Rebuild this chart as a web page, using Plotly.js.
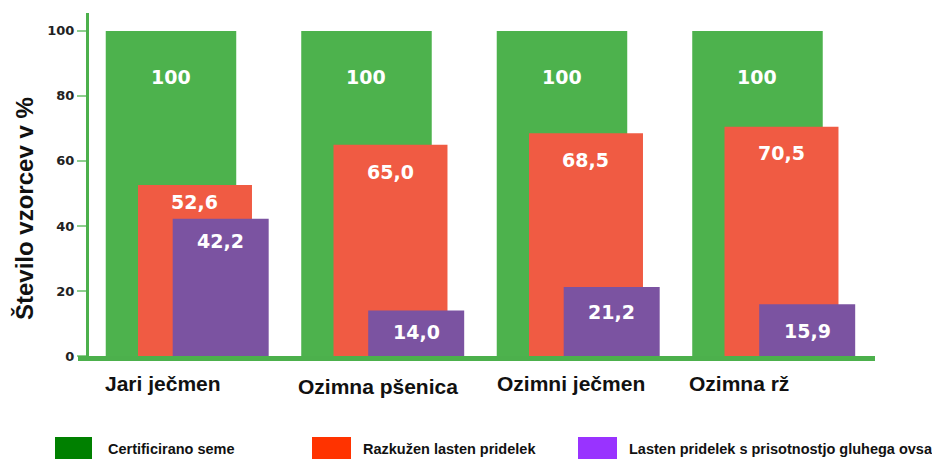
<!DOCTYPE html>
<html>
<head>
<meta charset="utf-8">
<script src="https://cdn.plot.ly/plotly-3.0.1.min.js"></script>
<style>
  html, body { margin: 0; padding: 0; background: #ffffff; }
  #chart { width: 932px; height: 460px; }
</style>
</head>
<body>
<div id="chart"></div>
<script>
// ---------- DATA ----------
const categories = ['Jari ječmen', 'Ozimna pšenica', 'Ozimni ječmen', 'Ozimna rž'];
const seriesNames = ['Certificirano seme', 'Razkužen lasten pridelek', 'Lasten pridelek s prisotnostjo gluhega ovsa'];
const certifiedSeed = [100, 100, 100, 100];
const disinfectedOwnYield = [52.6, 65.0, 68.5, 70.5];
const ownYieldWithWildOat = [42.2, 14.0, 21.2, 15.9];
const yTickValues = [0, 20, 40, 60, 80, 100];
const yAxisTitle = 'Število vzorcev v %';

// ---------- STYLE ----------
const W = 932, H = 460;
const M = { l: 89, r: 57, t: 13, b: 104 };
const PW = W - M.l - M.r, PH = H - M.t - M.b;
const px = x => (x - M.l) / PW;
const py = y => (H - M.b - y) / PH;

const axisGreen = '#4cb04c';
const styles = [
  { color: '#4db24d', legendColor: '#008000', width: 0.6675, offset: -0.3338, decimals: 0, labelShift: [-46, -46, -46, -46] },
  { color: '#f05b43', legendColor: '#ff3300', width: 0.583,  offset: -0.1688, decimals: 1, labelShift: [-17, -27, -27, -26] },
  { color: '#7b53a1', legendColor: '#9933ff', width: 0.491,  offset: 0.0087,  decimals: 1, labelShift: [-22, -22, -25, -27] }
];
const seriesValues = [certifiedSeed, disinfectedOwnYield, ownYieldWithWildOat];
const catLabelShift = [ { x: -8.5, y: 383 }, { x: 11, y: 386 }, { x: 9, y: 383 }, { x: -18.5, y: 383 } ];
const legendBoxes = [ { x0: 55, x1: 92, tx: 106 }, { x0: 312, x1: 351, tx: 361 }, { x0: 578, x1: 617, tx: 627 } ];

const fmt = (v, d) => v.toFixed(d).replace('.', ',');

// ---------- TRACES ----------
const traces = seriesValues.map((vals, s) => ({
  type: 'bar',
  name: seriesNames[s],
  x: categories,
  y: vals,
  width: styles[s].width,
  offset: styles[s].offset,
  marker: { color: styles[s].color, line: { width: 0 } },
  hoverinfo: 'x+y',
  showlegend: false
}));

// ---------- ANNOTATIONS ----------
const annotations = [];
seriesValues.forEach((vals, s) => {
  vals.forEach((v, i) => {
    annotations.push({
      xref: 'x', yref: 'y',
      x: i + styles[s].offset + styles[s].width / 2,
      y: v,
      yshift: styles[s].labelShift[i],
      yanchor: 'middle', xanchor: 'center',
      text: fmt(v, styles[s].decimals),
      showarrow: false,
      font: { family: 'DejaVu Sans', weight: 'bold', size: 19, color: '#ffffff' }
    });
  });
});
categories.forEach((c, i) => {
  annotations.push({
    xref: 'x', yref: 'paper',
    x: i, xshift: catLabelShift[i].x,
    y: py(catLabelShift[i].y),
    xanchor: 'center', yanchor: 'middle',
    text: c, showarrow: false,
    font: { family: 'Liberation Sans, Arial, sans-serif', weight: 'bold', size: 21, color: '#111111' }
  });
});
// y axis title
annotations.push({
  xref: 'paper', yref: 'paper',
  x: px(24), y: py(209),
  xanchor: 'center', yanchor: 'middle',
  textangle: -90,
  text: yAxisTitle, showarrow: false,
  font: { family: 'Liberation Sans, Arial, sans-serif', weight: 'bold', size: 24, color: '#111111' }
});
const shapes = [];
seriesNames.forEach((n, s) => {
  const b = legendBoxes[s];
  shapes.push({
    type: 'rect', xref: 'paper', yref: 'paper',
    x0: px(b.x0), x1: px(b.x1), y0: py(459), y1: py(437),
    fillcolor: styles[s].legendColor, line: { width: 0 }
  });
  annotations.push({
    xref: 'paper', yref: 'paper',
    x: px(b.tx), y: py(449),
    xanchor: 'left', yanchor: 'middle',
    text: n, showarrow: false,
    font: { family: 'Liberation Sans, Arial, sans-serif', weight: 'bold', size: 14.5, color: '#111111' }
  });
});
// x axis baseline (extends slightly left of the y axis as in the reference)
shapes.push({
  type: 'line', xref: 'paper', yref: 'paper',
  x0: px(78), x1: px(875), y0: py(358.5), y1: py(358.5),
  line: { color: axisGreen, width: 5 }
});

const layout = {
  width: W, height: H,
  margin: M,
  paper_bgcolor: '#ffffff', plot_bgcolor: '#ffffff',
  barmode: 'overlay',
  xaxis: {
    type: 'category',
    range: [(M.l - 171) / 195.5, (M.l - 171) / 195.5 + PW / 195.5],
    showticklabels: false, ticks: '', showgrid: false, zeroline: false, showline: false,
    fixedrange: true
  },
  yaxis: {
    range: [0, 105.5],
    tickvals: yTickValues,
    ticktext: yTickValues.map(String),
    ticks: 'outside', ticklen: 9, tickwidth: 2, tickcolor: '#8fcf8f',
    tickfont: { family: 'DejaVu Sans', weight: 'bold', size: 13, color: '#222222' },
    showgrid: false, zeroline: false,
    showline: true, linecolor: axisGreen, linewidth: 3,
    fixedrange: true
  },
  annotations: annotations,
  shapes: shapes,
  showlegend: false
};

Plotly.newPlot('chart', traces, layout, { displayModeBar: false, staticPlot: true });
</script>
</body>
</html>
